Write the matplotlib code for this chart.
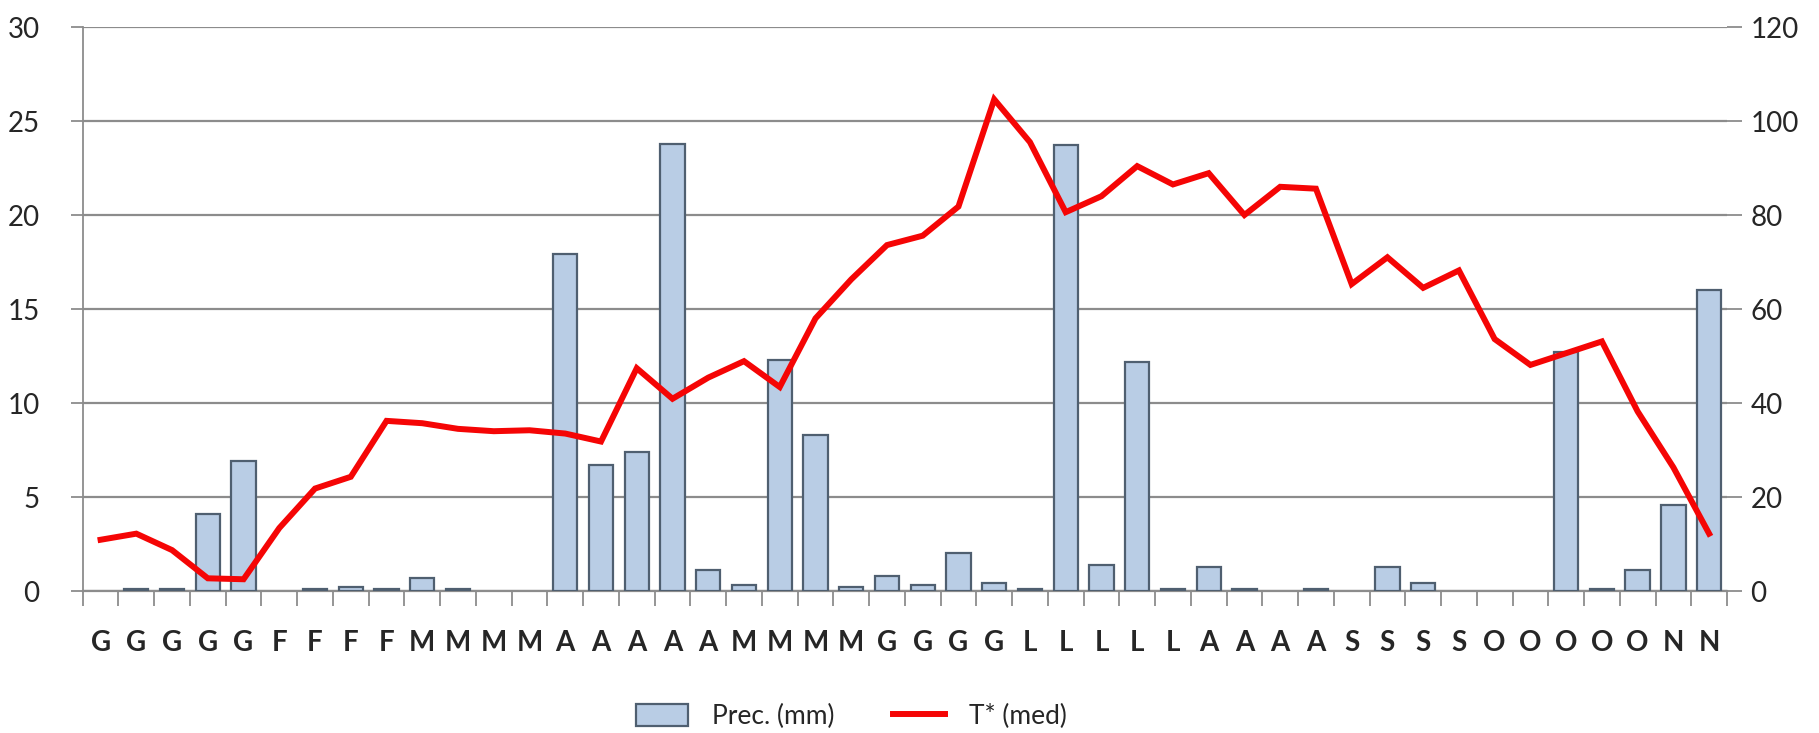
import numpy as np
import matplotlib
matplotlib.use("Agg")
import matplotlib.pyplot as plt
from matplotlib.patches import Patch
from matplotlib.lines import Line2D

plt.rcParams['font.family'] = ['Lato', 'DejaVu Sans']

# ---- data ----
categories = list("GGGGG" "FFFF" "MMMM" "AAAAA" "MMMM" "GGGG" "LLLLL" "AAAA" "SSSS" "OOOOO" "NN")
prec_mm = [0, 0.1, 0.1, 4.1, 6.9, 0, 0.1, 0.2, 0.1, 0.7, 0.1, 0, 0, 17.9, 6.7, 7.4,
           23.8, 1.1, 0.3, 12.3, 8.3, 0.2, 0.8, 0.3, 2.0, 0.4, 0.1, 23.7, 1.4, 12.2,
           0.1, 1.3, 0.1, 0, 0.1, 0, 1.3, 0.4, 0, 0, 0, 12.7, 0.1, 1.1, 4.6, 16.0]
temp_med = [10.9, 12.2, 8.7, 2.7, 2.5, 13.4, 21.8, 24.3, 36.2, 35.7, 34.5, 34.0,
            34.2, 33.5, 31.8, 47.4, 40.9, 45.4, 48.9, 43.4, 58.0, 66.3, 73.6, 75.6,
            81.8, 104.6, 95.5, 80.6, 84.0, 90.4, 86.5, 88.9, 80.0, 86.0, 85.6, 65.3,
            71.0, 64.5, 68.2, 53.6, 48.1, 50.6, 53.1, 38.2, 26.3, 12.2]
left_ticks = [0, 5, 10, 15, 20, 25, 30]
right_ticks = [0, 20, 40, 60, 80, 100, 120]
series_names = ["Prec. (mm)", "T* (med)"]

# ---- figure ----
W, H, DPI = 1819, 733, 100
fig = plt.figure(figsize=(W / DPI, H / DPI), dpi=DPI)
x0, x1 = 82.7, 1727
ytop, ybot = 27, 591
ax = fig.add_axes([x0 / W, 1 - ybot / H, (x1 - x0) / W, (ybot - ytop) / H])
ax2 = ax.twinx()

n = len(categories)
x = np.arange(n)
grid_col = "#8c8c8c"
txt_col = "#262626"

# bars (skip zero values, Excel draws nothing)
xb = [i for i, v in enumerate(prec_mm) if v > 0]
vb = [prec_mm[i] for i in xb]
ax.bar(xb, vb, width=0.68, color="#b9cde5", edgecolor="#4f5f70", linewidth=1.6, zorder=3)

ax.set_xlim(-0.5, n - 0.5)
ax.set_ylim(0, 30)
ax.set_yticks(left_ticks)
ax.yaxis.grid(True, color=grid_col, linewidth=1.6, zorder=0)
ax.set_axisbelow(True)

for s in ["top", "right"]:
    ax.spines[s].set_visible(False)
    ax2.spines[s].set_visible(False)
ax2.spines["left"].set_visible(False)
ax2.spines["bottom"].set_visible(False)
ax.spines["left"].set_color(grid_col)
ax.spines["left"].set_linewidth(1.3)
ax.spines["bottom"].set_color(grid_col)
ax.spines["bottom"].set_linewidth(1.6)

ax.set_xticks(x)
ax.set_xticklabels(categories, fontsize=20, fontweight="bold", color=txt_col)
ax.tick_params(axis="x", which="major", length=0, pad=28)
ax.set_xticks(np.arange(-0.5, n, 1.0), minor=True)
ax.tick_params(axis="x", which="minor", length=11, width=1.3, color=grid_col, direction="out")
ax.tick_params(axis="y", length=9, width=1.3, color=grid_col, labelsize=20,
               labelcolor=txt_col, pad=22)

# temperature line
ax2.plot(x, temp_med, color="#f50505", linewidth=4.3, solid_joinstyle="miter", zorder=4)
ax2.set_ylim(0, 120)
ax2.set_yticks(right_ticks)
ax2.tick_params(axis="y", length=11, width=1.3, color=grid_col, labelsize=20,
                labelcolor=txt_col, pad=6)

# legend
handles = [Patch(facecolor="#b9cde5", edgecolor="#4f5f70", linewidth=1.6),
           Line2D([0], [0], color="#f50505", linewidth=4.3)]
fig.legend(handles, series_names, loc="center", bbox_to_anchor=(0.468, 0.022),
           ncol=2, frameon=False, fontsize=19, handlelength=2.0, handleheight=0.9,
           handletextpad=0.9, columnspacing=2.2, labelcolor=txt_col)

fig.savefig("out.png", dpi=DPI, facecolor="white")
